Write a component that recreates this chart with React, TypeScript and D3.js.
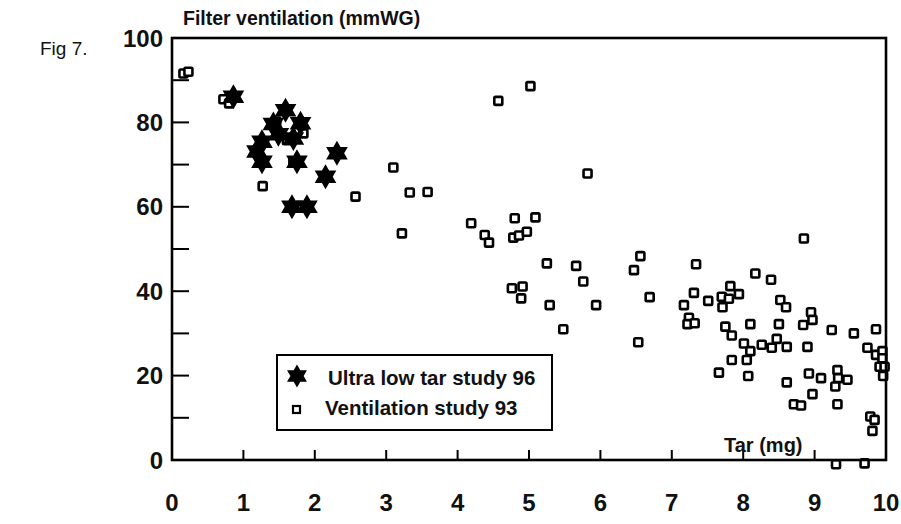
import React from "react";
import * as d3 from "d3";

// Ultra low tar study 96 (stars)
const starTar = [0.86, 1.59, 1.8, 1.42, 1.49, 1.26, 1.19, 1.26, 1.7, 1.75, 2.31, 2.15, 1.68, 1.89];
const starVent = [86.1, 82.9, 79.8, 79.6, 77.2, 75.4, 73.1, 70.7, 76.2, 70.7, 72.7, 67.1, 60.0, 60.0];

// Ventilation study 93 (squares)
const sqTar = [
  0.16, 0.23, 0.72, 0.8, 1.46, 1.84, 1.61, 1.7, 1.27, 3.1, 2.57, 3.33, 3.58, 5.02, 4.57, 5.82,
  4.19, 4.8, 5.09, 3.22, 4.38, 4.44, 4.78, 4.86, 4.97, 5.25, 5.66, 5.76, 4.76, 4.91, 4.89, 5.29,
  5.94, 5.48, 6.56, 6.47, 6.69, 6.53,
  8.85, 7.34, 8.17, 8.39, 7.31, 7.51, 7.17, 7.82, 7.94, 7.7, 7.8, 7.71, 7.24, 7.22, 7.32, 8.52,
  8.6, 8.95, 8.97, 8.84, 8.1, 8.5, 7.75, 7.84, 9.24, 9.55, 9.86, 8.01, 8.1, 8.26, 8.4, 8.47,
  8.61, 8.9, 7.84, 8.05, 9.74, 9.86, 9.95, 9.95, 9.91, 9.98, 9.96, 7.66, 8.07, 8.61, 8.92, 9.09,
  9.32, 9.33, 9.46, 9.29, 8.97, 8.71, 8.81, 9.32, 9.78, 9.84, 9.81, 9.3, 9.7,
];
const sqVent = [
  91.6, 92.0, 85.5, 84.5, 80.2, 77.4, 75.8, 70.7, 64.9, 69.3, 62.4, 63.4, 63.5, 88.6, 85.1, 67.9,
  56.1, 57.3, 57.5, 53.7, 53.3, 51.5, 52.7, 53.2, 54.1, 46.6, 46.0, 42.3, 40.7, 41.1, 38.3, 36.7,
  36.7, 31.0, 48.3, 45.0, 38.6, 27.9,
  52.5, 46.4, 44.2, 42.7, 39.6, 37.7, 36.7, 41.2, 39.3, 38.7, 38.2, 36.2, 33.7, 32.2, 32.4, 37.9,
  36.2, 35.0, 33.2, 32.0, 32.2, 32.2, 31.6, 29.5, 30.8, 30.0, 31.0, 27.6, 25.8, 27.3, 26.6, 28.7,
  26.8, 26.8, 23.7, 23.7, 26.6, 24.9, 25.8, 24.1, 22.1, 22.1, 19.9, 20.7, 19.9, 18.4, 20.5, 19.4,
  21.3, 19.4, 19.0, 17.4, 15.6, 13.2, 12.9, 13.2, 10.3, 9.5, 6.9, -1.0, -0.8,
];

const xTickLabels = ["0", "1", "2", "3", "4", "5", "6", "7", "8", "9", "10"];
const yTickLabels = ["0", "20", "40", "60", "80", "100"];
const yMinorTicks = [10, 20, 30, 40, 50, 60, 70, 80, 90];
const xMinorTicks = [1, 2, 3, 4, 5, 6, 7, 8, 9];

const W = 901;
const H = 524;
const FONT = "'Liberation Sans', Arial, Helvetica, sans-serif";

function hexagram(r: number): string {
  const ri = r / Math.sqrt(3);
  const pts: [number, number][] = [];
  for (let i = 0; i < 12; i++) {
    const a = (Math.PI / 6) * i - Math.PI / 2;
    const rad = i % 2 === 0 ? r : ri;
    pts.push([Math.cos(a) * rad, Math.sin(a) * rad]);
  }
  return (d3.line()(pts) || "") + "Z";
}

export default function App() {
  const x = d3.scaleLinear().domain([0, 10]).range([172, 886]);
  const y = d3.scaleLinear().domain([0, 100]).range([460, 38]);
  const starPath = hexagram(12.5);
  const legendStar = hexagram(11.5);
  const sq = 8;

  return (
    <svg
      width={W}
      height={H}
      style={{ position: "absolute", left: 0, top: 0, background: "#fff" }}
      fontFamily={FONT}
    >
      <rect x={0} y={0} width={W} height={H} fill="#fff" />
      <text x={40} y={55} fontSize={19} fill="#111">Fig 7.</text>
      <text x={183} y={25} fontSize={19.5} fontWeight="bold" fill="#111">Filter ventilation (mmWG)</text>

      {/* squares */}
      {sqTar.map((t, i) => (
        <rect
          key={"s" + i}
          x={x(t) - sq / 2}
          y={y(sqVent[i]) - sq / 2}
          width={sq}
          height={sq}
          fill="#fff"
          stroke="#000"
          strokeWidth={2.6}
          rx={1.2}
        />
      ))}
      {/* stars */}
      {starTar.map((t, i) => (
        <path key={"t" + i} d={starPath} transform={`translate(${x(t)},${y(starVent[i])})`} fill="#000" />
      ))}

      {/* frame */}
      <rect x={x(0)} y={y(100)} width={x(10) - x(0)} height={y(0) - y(100)} fill="none" stroke="#000" strokeWidth={2.6} />
      {yMinorTicks.map((v) => (
        <line key={"yt" + v} x1={x(0)} x2={x(0) + 17} y1={y(v)} y2={y(v)} stroke="#000" strokeWidth={2} />
      ))}
      {xMinorTicks.map((v) => (
        <line key={"xt" + v} x1={x(v)} x2={x(v)} y1={y(0)} y2={y(0) - 10} stroke="#000" strokeWidth={2} />
      ))}

      {yTickLabels.map((l) => (
        <text key={"yl" + l} x={163} y={y(+l)} dy="0.36em" textAnchor="end" fontSize={24} fontWeight="bold" fill="#111">
          {l}
        </text>
      ))}
      {xTickLabels.map((l) => (
        <text key={"xl" + l} x={x(+l)} y={511} textAnchor="middle" fontSize={24} fontWeight="bold" fill="#111">
          {l}
        </text>
      ))}

      <text x={724} y={452} fontSize={20} fontWeight="bold" fill="#111">Tar (mg)</text>

      {/* legend */}
      <rect x={277} y={355} width={275} height={75} fill="#fff" stroke="#000" strokeWidth={2} />
      <path d={legendStar} transform="translate(297,376)" fill="#000" />
      <rect x={293} y={406} width={7} height={7} fill="#fff" stroke="#000" strokeWidth={2.2} />
      <text x={328} y={385} fontSize={20.5} fontWeight="bold" fill="#111">Ultra low tar study 96</text>
      <text x={325} y={415} fontSize={20.5} fontWeight="bold" fill="#111">Ventilation study 93</text>
    </svg>
  );
}
